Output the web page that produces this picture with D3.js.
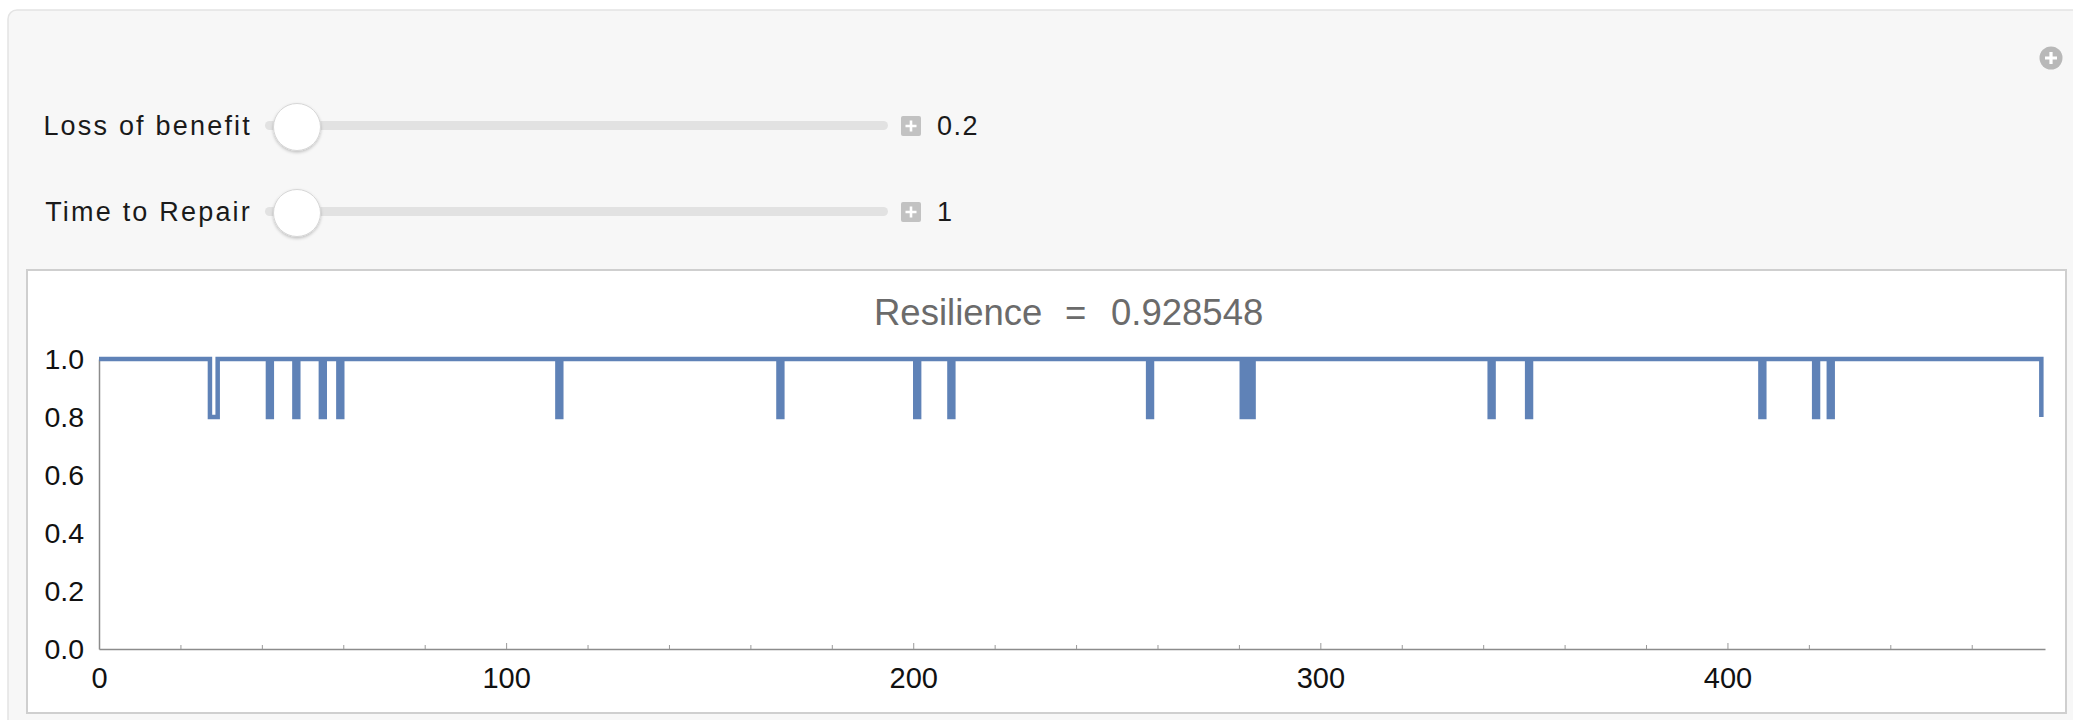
<!DOCTYPE html>
<html>
<head>
<meta charset="utf-8">
<script src="https://cdn.jsdelivr.net/npm/d3@7"></script>
<style>
  html, body { margin: 0; padding: 0; background: #ffffff; }
  svg { display: block; }
  text { font-family: "Liberation Sans", Arial, Helvetica, sans-serif; }
</style>
</head>
<body>
<div id="chart"></div>
<script>
// ---------------- data ----------------
const sliderLabels = ["Loss of benefit", "Time to Repair"];
const sliderValues = ["0.2", "1"];
const lossOfBenefit = 0.2;
const resilience = 0.928548;
// failure intervals (start / end times)
const dipStart = [27.25, 41.5, 48.0, 54.5, 58.8, 112.6, 166.9, 200.5, 208.9, 257.7, 280.7, 282.65, 341.6, 350.8, 408.1, 421.3, 424.9];
const dipEnd   = [29.15, 42.45, 48.95, 55.45, 59.75, 113.55, 167.85, 201.45, 209.85, 258.65, 281.65, 283.6, 342.55, 351.75, 409.05, 422.25, 425.85];
const lastTime = 477.1;          // series ends with a drop at this time
const xDomainMax = 478;
const xTickValues = [0, 100, 200, 300, 400];
const xMinorTicks = [20, 40, 60, 80, 120, 140, 160, 180, 220, 240, 260, 280, 320, 340, 360, 380, 420, 440, 460];
const yTickValues = [0, 0.2, 0.4, 0.6, 0.8, 1.0];

// ---------------- layout ----------------
const W = 2073, H = 720;
const svg = d3.select("#chart").append("svg").attr("width", W).attr("height", H);

const defs = svg.append("defs");
const f = defs.append("filter").attr("id", "shadow").attr("x", "-50%").attr("y", "-50%").attr("width", "200%").attr("height", "200%");
f.append("feDropShadow").attr("dx", 0).attr("dy", 1.5).attr("stdDeviation", 1.5).attr("flood-color", "#000").attr("flood-opacity", 0.22);

// outer panel
svg.append("rect").attr("x", 8).attr("y", 10).attr("width", 2090).attr("height", 740)
  .attr("rx", 9).attr("fill", "#f7f7f7").attr("stroke", "#e4e4e4").attr("stroke-width", 1.5);

// corner plus icon
const cp = svg.append("g").attr("transform", "translate(2051,58)");
cp.append("circle").attr("r", 11.5).attr("fill", "#b8b8b8");
cp.append("path").attr("d", "M-6,0H6M0,-6V6").attr("stroke", "#fff").attr("stroke-width", 3.2);

// sliders
const sliderY = [126, 212];
sliderLabels.forEach((lab, i) => {
  const cy = sliderY[i];
  svg.append("text").attr("x", 252).attr("y", cy + 9).attr("text-anchor", "end")
    .attr("font-size", 27).attr("letter-spacing", 2.2).attr("fill", "#1a1a1a").text(lab);
  svg.append("rect").attr("x", 265).attr("y", cy - 5).attr("width", 623).attr("height", 9)
    .attr("rx", 4.5).attr("fill", "#e2e2e2");
  svg.append("circle").attr("cx", 297).attr("cy", cy + 1).attr("r", 23.5)
    .attr("fill", "#ffffff").attr("stroke", "#d6d6d6").attr("stroke-width", 1).attr("filter", "url(#shadow)");
  const pb = svg.append("g").attr("transform", `translate(911,${cy})`);
  pb.append("rect").attr("x", -10).attr("y", -10).attr("width", 20).attr("height", 20).attr("rx", 2).attr("fill", "#c2c2c2");
  pb.append("path").attr("d", "M-5.5,0H5.5M0,-5.5V5.5").attr("stroke", "#fff").attr("stroke-width", 2.6);
  svg.append("text").attr("x", 937).attr("y", cy + 9).attr("font-size", 27).attr("letter-spacing", 1.5)
    .attr("fill", "#1a1a1a").text(sliderValues[i]);
});

// plot frame
svg.append("rect").attr("x", 27).attr("y", 270).attr("width", 2039).attr("height", 443)
  .attr("fill", "#ffffff").attr("stroke", "#cfcfcf").attr("stroke-width", 2);

// scales
const x = d3.scaleLinear().domain([0, xDomainMax]).range([99, 2045]);
const y = d3.scaleLinear().domain([0, 1]).range([649, 359]);

// title
const tg = svg.append("g").attr("fill", "#6b6b6b").attr("font-size", 36.5);
tg.append("text").attr("x", 874).attr("y", 325).text("Resilience");
tg.append("text").attr("x", 1065).attr("y", 325).text("=");
tg.append("text").attr("x", 1111).attr("y", 325).text(resilience.toString());

// axes
const xAxis = svg.append("g").attr("transform", `translate(0,${y(0)})`)
  .call(d3.axisBottom(x).tickValues(xTickValues).tickFormat(d3.format("d")).tickSize(-6).tickSizeOuter(0).tickPadding(18));
svg.append("g").attr("transform", `translate(0,${y(0)})`)
  .call(d3.axisBottom(x).tickValues(xMinorTicks).tickFormat("").tickSize(-4).tickSizeOuter(0))
  .call(g => g.select(".domain").remove());
const yAxis = svg.append("g").attr("transform", `translate(${x(0)},0)`)
  .call(d3.axisLeft(y).tickValues(yTickValues).tickFormat(d3.format(".1f")).tickSize(0).tickSizeOuter(0).tickPadding(15));

svg.selectAll(".domain").attr("stroke", "#8c8c8c").attr("stroke-width", 1.5);
svg.selectAll(".tick line").attr("stroke", "#9a9a9a").attr("stroke-width", 1);
xAxis.selectAll("text").attr("font-size", 29).attr("fill", "#111").attr("font-family", "Liberation Sans, Arial, sans-serif");
yAxis.selectAll("text").attr("font-size", 28.5).attr("fill", "#111").attr("font-family", "Liberation Sans, Arial, sans-serif");

// step series
const low = 1 - lossOfBenefit;
const pts = [[0, 1]];
dipStart.forEach((s, i) => {
  pts.push([s, 1], [s, low], [dipEnd[i], low], [dipEnd[i], 1]);
});
pts.push([lastTime, 1], [lastTime, low]);

svg.append("path").datum(pts)
  .attr("d", d3.line().x(d => x(d[0])).y(d => y(d[1])))
  .attr("fill", "none").attr("stroke", "#5f82b7").attr("stroke-width", 4.5)
  .attr("stroke-linejoin", "miter").attr("stroke-linecap", "butt");
</script>
</body>
</html>
